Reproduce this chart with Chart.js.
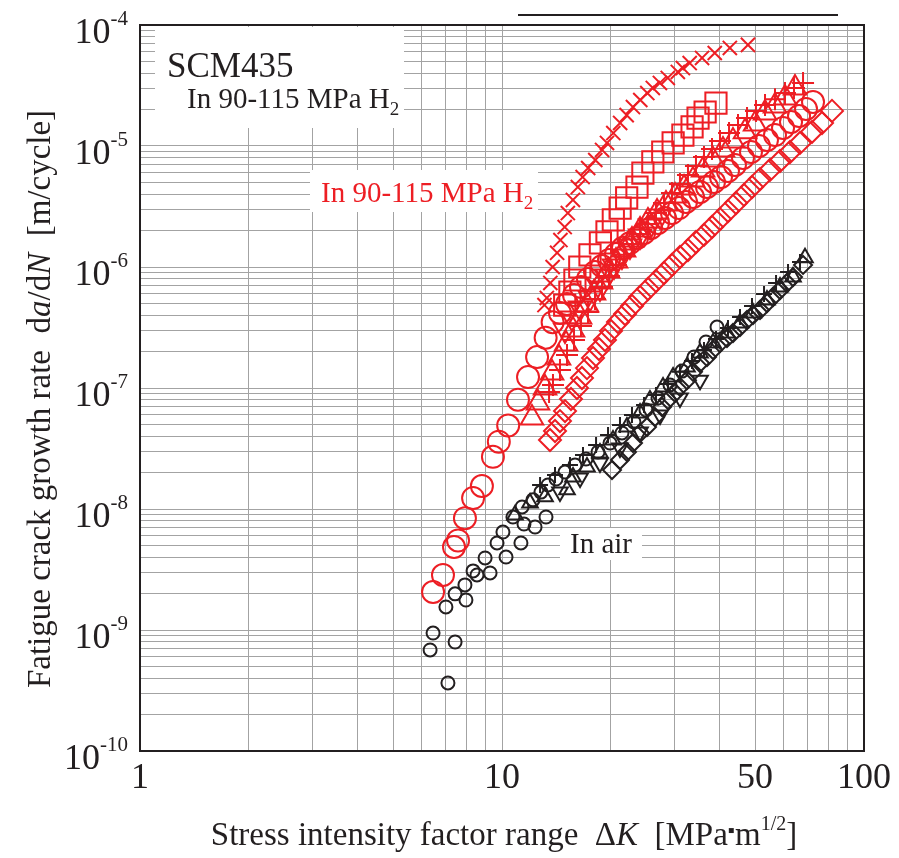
<!DOCTYPE html>
<html><head><meta charset="utf-8">
<script src="https://cdn.jsdelivr.net/npm/chart.js@4/dist/chart.umd.min.js"></script>
<style>html,body{margin:0;padding:0;background:#fff}canvas{display:block}</style>
</head><body>
<canvas id="c" width="899" height="858"></canvas>
<script>
// ---------- data: stress intensity factor range ΔK [MPa·m^1/2] and da/dN [m/cycle] ----------
// hydrogen gas (red)
const h2CrossK = [13.1,13.3,13.6,13.8,14.2,14.5,14.9,15.2,15.7,16.2,16.7,17.3,18.1,18.9,19.5,20.3,21.2,22.1,23.0,24.1,25.2,26.1,27.3,28.7,30.6,31.6,33.0,35.7,38.7,42.6,47.8];
const h2CrossRate = [4.85e-7,5.55e-7,7.38e-7,1.00e-6,1.31e-6,1.67e-6,2.14e-6,2.79e-6,3.58e-6,4.58e-6,5.54e-6,6.58e-6,7.66e-6,9.27e-6,1.06e-5,1.28e-5,1.55e-5,1.80e-5,2.10e-5,2.40e-5,2.74e-5,3.02e-5,3.32e-5,3.65e-5,4.09e-5,4.41e-5,4.85e-5,5.34e-5,5.87e-5,6.46e-5,6.85e-5];

const h2SquareK = [14.9,15.4,15.9,16.4,17.5,18.7,19.5,20.3,21.2,22.1,23.6,24.5,26.1,27.8,29.7,31.6,33.5,34.8,36.4,39.0];
const h2SquareRate = [4.85e-7,6.21e-7,7.81e-7,1.0e-6,1.26e-6,1.58e-6,1.95e-6,2.45e-6,3.07e-6,3.72e-6,4.58e-6,5.98e-6,7.38e-6,8.92e-6,1.06e-5,1.23e-5,1.44e-5,1.70e-5,1.91e-5,2.26e-5];

const h2PlusK = [13.49,13.83,14.46,15.12,15.81,16.53,17.28,18.07,18.89,19.75,20.65,21.73,22.86,24.06,25.31,26.63,28.02,29.48,31.02,32.64,34.34,36.14,38.03,40.01,42.38,44.87,47.52,50.30,53.28,56.77,60.49,64.06,67.86];
const h2PlusRate = [9.27e-8,1.06e-7,1.41e-7,1.87e-7,2.49e-7,3.25e-7,4.25e-7,5.44e-7,6.84e-7,8.43e-7,1.04e-6,1.26e-6,1.55e-6,1.87e-6,2.27e-6,2.79e-6,3.38e-6,4.09e-6,4.85e-6,5.75e-6,6.84e-6,8.11e-6,9.44e-6,1.10e-5,1.28e-5,1.49e-5,1.70e-5,1.95e-5,2.18e-5,2.44e-5,2.74e-5,3.02e-5,3.32e-5];

const h2TriK = [12.10,12.57,13.15,13.75,14.37,15.03,15.71,16.43,17.17,17.95,18.77,19.63,20.65,21.73,22.86,24.06,25.31,26.81,28.38,30.06,31.83,33.70,35.92,38.28,40.78,43.46,46.91,50.01,53.28,56.77,60.49,64.47];
const h2TriRate = [5.65e-8,7.51e-8,1.0e-7,1.33e-7,1.77e-7,2.31e-7,3.01e-7,3.86e-7,4.85e-7,6.10e-7,7.52e-7,9.27e-7,1.12e-6,1.38e-6,1.67e-6,2.02e-6,2.40e-6,2.85e-6,3.32e-6,3.86e-6,4.50e-6,5.24e-6,6.34e-6,7.66e-6,9.27e-6,1.10e-5,1.31e-5,1.52e-5,1.87e-5,2.14e-5,2.49e-5,3.02e-5];

const h2TriDownK = [14.93,15.61,16.43,17.51,18.65,19.50,20.39,21.45,22.57,24.06,25.63,27.33];
const h2TriDownRate = [3.01e-7,3.79e-7,4.58e-7,5.55e-7,6.70e-7,8.43e-7,1.02e-6,1.23e-6,1.49e-6,1.80e-6,2.18e-6,2.64e-6];

const h2CircleK = [6.45,6.87,7.37,7.56,7.9,8.32,8.8,9.44,9.8,10.4,11.07,11.8,12.5,13.2,13.8,14.46,15.12,15.81,16.53,17.28,18.07,18.89,19.75,20.65,21.59,22.57,23.60,24.68,25.80,26.97,28.20,29.48,30.83,32.23,33.70,35.24,36.84,38.51,40.27,42.10,44.01,46.31,48.73,51.28,53.95,56.77,59.74,62.86,66.14,69.15,72.30];
const h2CircleRate = [2.06e-9,2.85e-9,4.85e-9,5.5e-9,8.4e-9,1.23e-8,1.55e-8,2.7e-8,3.6e-8,4.9e-8,8.0e-8,1.23e-7,1.8e-7,2.6e-7,3.5e-7,4.17e-7,4.94e-7,5.87e-7,6.84e-7,7.96e-7,9.10e-7,1.02e-6,1.14e-6,1.28e-6,1.44e-6,1.58e-6,1.74e-6,1.91e-6,2.10e-6,2.31e-6,2.54e-6,2.79e-6,3.07e-6,3.45e-6,3.79e-6,4.17e-6,4.58e-6,5.04e-6,5.54e-6,6.21e-6,6.97e-6,7.96e-6,8.92e-6,1.0e-5,1.12e-5,1.23e-5,1.41e-5,1.58e-5,1.77e-5,2.02e-5,2.31e-5];

const h2DiamondK = [13.57,14.01,14.46,14.93,15.51,16.11,16.63,17.17,17.84,18.53,19.25,20.0,20.91,21.87,22.86,24.06,25.31,26.63,28.02,29.48,31.02,32.64,34.34,36.14,38.03,40.01,42.10,44.30,46.61,49.05,51.61,55.0,58.61,62.46,66.56,71.86,76.56,81.58];
const h2DiamondRate = [3.72e-8,4.41e-8,5.33e-8,6.45e-8,8.11e-8,1.0e-7,1.21e-7,1.46e-7,1.77e-7,2.10e-7,2.49e-7,2.96e-7,3.51e-7,4.09e-7,4.76e-7,5.65e-7,6.58e-7,7.66e-7,8.92e-7,1.04e-6,1.21e-6,1.38e-6,1.61e-6,1.84e-6,2.14e-6,2.49e-6,2.90e-6,3.38e-6,3.94e-6,4.58e-6,5.33e-6,6.34e-6,7.52e-6,8.92e-6,1.06e-5,1.31e-5,1.55e-5,1.95e-5];

// air (black)
const airCircleK = [6.33,6.45,7.09,7.42,7.00,7.42,7.95,7.90,8.32,8.53,9.27,8.98,9.69,10.06,10.26,10.72,11.28,11.50,12.34,13.23,11.36,12.18,12.81,13.40,14.10,14.93,15.91,17.06,18.42,19.88,21.45,23.15,24.99,26.97,29.11,31.42,33.91,36.60,39.26];
const airCircleRate = [6.84e-10,9.44e-10,3.65e-10,7.96e-10,1.55e-9,1.99e-9,1.77e-9,2.36e-9,3.08e-9,2.85e-9,2.96e-9,3.94e-9,5.24e-9,6.45e-9,4.01e-9,8.59e-9,5.24e-9,7.51e-9,7.10e-9,8.59e-9,1.04e-8,1.19e-8,1.38e-8,1.58e-8,1.77e-8,2.02e-8,2.31e-8,2.59e-8,2.96e-8,3.51e-8,4.25e-8,5.24e-8,6.58e-8,8.26e-8,1.06e-7,1.38e-7,1.80e-7,2.40e-7,3.19e-7];

const airTriK = [10.86,11.95,13.15,15.12,15.71,17.17,18.65,20.26,22.14,24.06,25.63,27.85,29.69,32.43,35.24,38.28,41.83,45.44,49.36,53.95,58.61,63.66,68.71];
const airTriRate = [8.91e-9,1.12e-8,1.26e-8,1.44e-8,1.84e-8,2.22e-8,2.90e-8,3.72e-8,4.76e-8,6.21e-8,7.96e-8,1.02e-7,1.23e-7,1.49e-7,1.95e-7,2.35e-7,2.85e-7,3.44e-7,4.17e-7,5.33e-7,6.84e-7,8.26e-7,1.19e-6];

const airTriDownK = [14.46,16.43,18.65,21.18,24.06,27.33,31.02,35.24];
const airTriDownRate = [1.38e-8,1.80e-8,2.40e-8,3.19e-8,4.33e-8,5.98e-8,8.26e-8,1.16e-7];

const airPlusK = [12.74,14.01,15.41,16.74,18.19,19.63,21.18,22.86,24.68,26.63,28.74,31.02,33.49,36.14,39.01,42.10,45.44,49.05,52.95,57.15,61.68,66.56];
const airPlusRate = [1.58e-8,1.91e-8,2.31e-8,2.79e-8,3.38e-8,4.09e-8,4.94e-8,5.98e-8,7.24e-8,8.75e-8,1.08e-7,1.36e-7,1.67e-7,2.06e-7,2.54e-7,3.13e-7,3.86e-7,4.76e-7,5.98e-7,7.38e-7,9.10e-7,1.10e-6];

const airDiamondK = [20.13,21.18,22.14,23.01,24.06,25.15,26.47,27.67,28.74,30.06,31.02,32.43,33.70,35.24,36.84,38.28,40.01,41.83,43.46,45.44,47.52,49.36,51.61,53.95,56.05,58.61,61.27,63.66,67.86];
const airDiamondRate = [2.10e-8,2.54e-8,2.96e-8,3.51e-8,4.25e-8,4.76e-8,5.75e-8,6.97e-8,7.96e-8,9.10e-8,1.02e-7,1.16e-7,1.36e-7,1.61e-7,1.80e-7,2.06e-7,2.35e-7,2.59e-7,2.85e-7,3.19e-7,3.65e-7,4.01e-7,4.41e-7,5.04e-7,5.65e-7,6.46e-7,7.38e-7,8.26e-7,1.04e-6];

// axis ticks / labels
const xTickValues = [1, 10, 50, 100];
const xTickLabels = ['1', '10', '50', '100'];
const yTickExponents = [-10, -9, -8, -7, -6, -5, -4];
const xRange = [1, 100];
const yRange = [1e-10, 1e-4];

// texts
const materialLabel = 'SCM435';
const envLabel = 'In 90-115 MPa H';
const airLabel = 'In air';

// ---------- styling ----------
const RED = 'rgb(237,30,36)';
const BLACK = 'rgb(35,31,32)';
const SERIF = "'Liberation Serif', 'Times New Roman', serif";

function pts(K, R) { return K.map((k, i) => ({ x: k, y: R[i] })); }
function series(K, R, style, color, radius, rotation) {
  return {
    data: pts(K, R), showLine: false, pointStyle: style, pointRadius: radius,
    pointHoverRadius: radius, pointRotation: rotation || 0,
    borderColor: color, backgroundColor: 'rgba(0,0,0,0)', borderWidth: 2,
    pointBorderWidth: 2
  };
}
const datasets = [
  series(h2CrossK, h2CrossRate, 'crossRot', RED, 10),
  series(h2SquareK, h2SquareRate, 'rect', RED, 15),
  series(h2PlusK, h2PlusRate, 'cross', RED, 11),
  series(h2TriK, h2TriRate, 'triangle', RED, 13),
  series(h2TriDownK, h2TriDownRate, 'triangle', RED, 13, 180),
  series(h2CircleK, h2CircleRate, 'circle', RED, 11),
  series(h2DiamondK, h2DiamondRate, 'rectRot', RED, 11),
  series(airCircleK, airCircleRate, 'circle', BLACK, 6.5),
  series(airTriK, airTriRate, 'triangle', BLACK, 9),
  series(airTriDownK, airTriDownRate, 'triangle', BLACK, 9, 180),
  series(airPlusK, airPlusRate, 'cross', BLACK, 8),
  series(airDiamondK, airDiamondRate, 'rectRot', BLACK, 9)
];

function logGridValues(lo, hi) {
  const v = [];
  for (let e = Math.round(Math.log10(lo)); e < Math.round(Math.log10(hi)); e++)
    for (let m = 1; m < 10; m++) v.push(m * Math.pow(10, e));
  v.push(hi);
  return v;
}

function drawRich(ctx, x, y, segs, align) {
  let total = 0;
  segs.forEach(s => { ctx.font = (s.italic ? 'italic ' : '') + s.size + 'px ' + SERIF; s.w = ctx.measureText(s.text).width; total += s.w; });
  let cx = align === 'right' ? x - total : align === 'center' ? x - total / 2 : x;
  ctx.textAlign = 'left'; ctx.textBaseline = 'alphabetic';
  segs.forEach(s => {
    ctx.font = (s.italic ? 'italic ' : '') + s.size + 'px ' + SERIF;
    ctx.fillText(s.text, cx, y + (s.dy || 0));
    cx += s.w;
  });
}

const decor = {
  id: 'decor',
  beforeDatasetsDraw(chart) {
    const ctx = chart.ctx, a = chart.chartArea;
    ctx.save();
    // white label boxes
    ctx.fillStyle = '#fff';
    ctx.fillRect(155, 27, 249, 101);
    ctx.fillRect(310, 170, 228, 42);
    ctx.fillRect(560, 528, 82, 32);
    // frame
    ctx.strokeStyle = BLACK; ctx.lineWidth = 2;
    ctx.strokeRect(a.left, a.top, a.right - a.left, a.bottom - a.top);
    // annotations
    ctx.fillStyle = BLACK;
    drawRich(ctx, 167, 77, [{ text: materialLabel, size: 35 }], 'left');
    drawRich(ctx, 187, 108, [{ text: envLabel, size: 29 }, { text: '2', size: 19, dy: 7 }], 'left');
    drawRich(ctx, 570, 553, [{ text: airLabel, size: 29 }], 'left');
    ctx.fillStyle = RED;
    drawRich(ctx, 321, 202, [{ text: envLabel, size: 29 }, { text: '2', size: 19, dy: 7 }], 'left');
    ctx.restore();
  },
  afterDraw(chart) {
    const ctx = chart.ctx, xs = chart.scales.x, ys = chart.scales.y;
    ctx.save();
    ctx.fillStyle = BLACK;
    // y tick labels 10^n
    yTickExponents.forEach(e => {
      const py = ys.getPixelForValue(Math.pow(10, e));
      drawRich(ctx, 128, py + 18, [{ text: '10', size: 36 }, { text: String(e), size: 21, dy: -18 }], 'right');
    });
    // x tick labels
    xTickValues.forEach((v, i) => {
      const px = xs.getPixelForValue(v);
      drawRich(ctx, px, 788, [{ text: xTickLabels[i], size: 36 }], 'center');
    });
    // x title
    drawRich(ctx, 504, 845, [
      { text: 'Stress intensity factor range  \u0394', size: 33 },
      { text: 'K', size: 33, italic: true },
      { text: '  [MPa', size: 33 },
      { text: '\u25AA', size: 20, dy: -8 },
      { text: 'm', size: 33 },
      { text: '1/2', size: 20, dy: -15 },
      { text: ']', size: 33 }
    ], 'center');
    // y title
    ctx.save();
    ctx.translate(50, 399);
    ctx.rotate(-Math.PI / 2);
    drawRich(ctx, 0, 0, [
      { text: 'Fatigue crack growth rate  d', size: 33 },
      { text: 'a', size: 33, italic: true },
      { text: '/d', size: 33 },
      { text: 'N', size: 33, italic: true },
      { text: '  [m/cycle]', size: 33 }
    ], 'center');
    ctx.restore();
    // cut-off legend rule at the top
    ctx.strokeStyle = BLACK; ctx.lineWidth = 2;
    ctx.beginPath(); ctx.moveTo(518, 15); ctx.lineTo(838, 15); ctx.stroke();
    ctx.restore();
  }
};

const gridOpts = { color: '#a3a3a3', lineWidth: 1, drawTicks: false };
new Chart(document.getElementById('c'), {
  type: 'scatter',
  data: { datasets },
  options: {
    responsive: false, animation: false, devicePixelRatio: 1,
    layout: { padding: { top: 25, right: 35, left: 0, bottom: 0 } },
    plugins: { legend: { display: false }, tooltip: { enabled: false } },
    scales: {
      x: {
        type: 'logarithmic', min: xRange[0], max: xRange[1],
        grid: gridOpts, border: { display: false },
        ticks: { display: false },
        afterBuildTicks: s => { s.ticks = logGridValues(xRange[0], xRange[1]).map(v => ({ value: v })); },
        afterFit: s => { s.height = 107; }
      },
      y: {
        type: 'logarithmic', min: yRange[0], max: yRange[1],
        grid: gridOpts, border: { display: false },
        ticks: { display: false },
        afterBuildTicks: s => { s.ticks = logGridValues(yRange[0], yRange[1]).map(v => ({ value: v })); },
        afterFit: s => { s.width = 140; }
      }
    }
  },
  plugins: [decor]
});
</script>
</body></html>
